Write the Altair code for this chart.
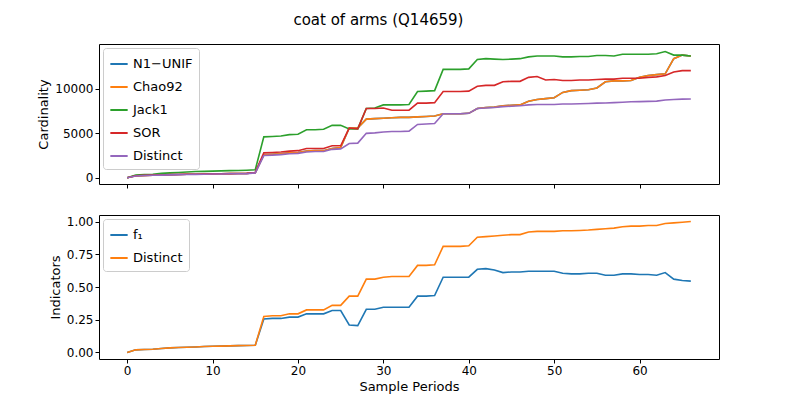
import altair as alt
import pandas as pd

periods = list(range(67))

distinct = [0, 0.2, 0.25, 0.28, 0.3, 0.33, 0.35, 0.37, 0.38, 0.4, 0.42, 0.43, 0.45, 0.46, 0.47, 0.55,
            2.5, 2.55, 2.6, 2.7, 2.75, 2.9, 2.95, 2.95, 3.2, 3.25, 3.85, 3.9, 5.0, 5.05, 5.15, 5.2, 5.2, 5.25,
            6.0, 6.05, 6.1, 7.2, 7.2, 7.2, 7.25, 7.8, 7.85, 7.9, 8.0, 8.05, 8.1, 8.2, 8.25, 8.25, 8.25, 8.3,
            8.3, 8.32, 8.35, 8.4, 8.42, 8.45, 8.5, 8.55, 8.57, 8.6, 8.62, 8.75, 8.8, 8.85, 8.87]
chao92 = [0, 0.22, 0.27, 0.3, 0.32, 0.35, 0.37, 0.39, 0.4, 0.42, 0.44, 0.45, 0.47, 0.48, 0.5, 0.58,
          2.6, 2.65, 2.7, 2.8, 2.85, 3.0, 3.05, 3.05, 3.3, 3.4, 5.6, 5.6, 6.6, 6.65, 6.7, 6.75, 6.8, 6.8,
          6.85, 6.9, 6.95, 7.2, 7.2, 7.2, 7.25, 7.8, 7.9, 7.95, 8.1, 8.15, 8.2, 8.6, 8.8, 8.9, 9.0, 9.6,
          9.8, 9.85, 9.9, 10.1, 10.8, 10.9, 10.9, 10.95, 11.3, 11.5, 11.6, 11.7, 13.4, 13.8, 13.7]
jack1 = [0, 0.3, 0.35, 0.4, 0.5, 0.55, 0.6, 0.65, 0.7, 0.72, 0.75, 0.78, 0.8, 0.82, 0.85, 0.9,
         4.6, 4.65, 4.7, 4.85, 4.9, 5.4, 5.4, 5.45, 5.9, 5.9, 5.5, 5.5, 7.8, 7.85, 8.2, 8.2, 8.2, 8.25,
         9.7, 9.75, 9.8, 12.2, 12.2, 12.2, 12.25, 13.3, 13.4, 13.35, 13.3, 13.35, 13.4, 13.6, 13.7, 13.7,
         13.7, 13.6, 13.6, 13.65, 13.65, 13.75, 13.75, 13.7, 13.9, 13.9, 13.9, 13.9, 13.95, 14.2, 13.8,
         13.8, 13.7]
sor = [0, 0.22, 0.27, 0.3, 0.32, 0.35, 0.37, 0.39, 0.4, 0.42, 0.44, 0.45, 0.47, 0.48, 0.5, 0.6,
       2.8, 2.85, 2.9, 3.0, 3.05, 3.3, 3.3, 3.3, 3.6, 3.6, 5.6, 5.5, 7.8, 7.8, 7.85, 7.6, 7.6, 7.6,
       8.4, 8.4, 8.45, 9.7, 9.7, 9.7, 9.75, 10.3, 10.4, 10.4, 10.8, 10.85, 10.85, 11.3, 11.4, 11.0,
       11.05, 10.95, 10.95, 11.0, 11.0, 11.05, 11.1, 11.1, 11.2, 11.2, 11.2, 11.3, 11.35, 11.5, 11.9,
       12.05, 12.05]

f1 = [0, 0.02, 0.022, 0.025, 0.03, 0.035, 0.038, 0.04, 0.042, 0.045, 0.047, 0.048, 0.05, 0.052, 0.053, 0.055,
      0.255, 0.26, 0.26, 0.27, 0.27, 0.295, 0.295, 0.295, 0.32, 0.32, 0.21, 0.205, 0.33, 0.33, 0.345, 0.345,
      0.345, 0.345, 0.43, 0.43, 0.435, 0.575, 0.575, 0.575, 0.575, 0.635, 0.64, 0.63, 0.61, 0.615, 0.615,
      0.62, 0.62, 0.62, 0.62, 0.605, 0.6, 0.6, 0.605, 0.605, 0.59, 0.59, 0.6, 0.6, 0.595, 0.595, 0.59, 0.61,
      0.56, 0.55, 0.545]
distinct_ratio = [0, 0.02, 0.022, 0.025, 0.03, 0.035, 0.038, 0.04, 0.042, 0.045, 0.047, 0.048, 0.05, 0.052,
                  0.053, 0.055, 0.275, 0.28, 0.28, 0.295, 0.295, 0.325, 0.325, 0.325, 0.36, 0.36, 0.43, 0.43,
                  0.56, 0.56, 0.575, 0.58, 0.58, 0.58, 0.665, 0.665, 0.67, 0.81, 0.81, 0.81, 0.815, 0.88,
                  0.885, 0.89, 0.895, 0.9, 0.9, 0.92, 0.925, 0.925, 0.925, 0.93, 0.93, 0.932, 0.935, 0.94,
                  0.945, 0.95, 0.96, 0.965, 0.965, 0.97, 0.97, 0.985, 0.99, 0.995, 1.0]

top_names = ["N1\u2212UNIF", "Chao92", "Jack1", "SOR", "Distinct"]
top_series = [chao92, chao92, jack1, sor, distinct]
top_colors = ["#1f77b4", "#ff7f0e", "#2ca02c", "#d62728", "#9467bd"]

top_rows = []
for name, vals in zip(top_names, top_series):
    for p, v in zip(periods, vals):
        top_rows.append({"period": p, "value": v * 1000, "series": name})
top_df = pd.DataFrame(top_rows)

bot_names = ["f\u2081", "Distinct"]
bot_rows = []
for name, vals in zip(bot_names, [f1, distinct_ratio]):
    for p, v in zip(periods, vals):
        bot_rows.append({"period": p, "value": v, "series": name})
bot_df = pd.DataFrame(bot_rows)

legend = alt.Legend(title=None, orient="top-left", offset=4, labelFontSize=13, symbolType="stroke",
                    symbolStrokeWidth=2, symbolSize=300, fillColor="white", strokeColor="#cccccc",
                    padding=6, cornerRadius=3, rowPadding=6, labelColor="black")

top = alt.Chart(top_df).mark_line(strokeWidth=1.6, clip=True).encode(
    x=alt.X("period:Q", scale=alt.Scale(domain=[-3.3, 69.3], nice=False),
            axis=alt.Axis(title=None, labels=False, values=[0, 10, 20, 30, 40, 50, 60])),
    y=alt.Y("value:Q", scale=alt.Scale(domain=[-700, 15050], nice=False),
            axis=alt.Axis(title="Cardinality", values=[0, 5000, 10000], format="d")),
    color=alt.Color("series:N", sort=top_names,
                    scale=alt.Scale(domain=top_names, range=top_colors), legend=legend),
    order=alt.Order("series:N"),
).properties(width=620, height=140)

bottom = alt.Chart(bot_df).mark_line(strokeWidth=1.6, clip=True).encode(
    x=alt.X("period:Q", scale=alt.Scale(domain=[-3.3, 69.3], nice=False),
            axis=alt.Axis(title="Sample Periods", values=[0, 10, 20, 30, 40, 50, 60])),
    y=alt.Y("value:Q", scale=alt.Scale(domain=[-0.05, 1.05], nice=False),
            axis=alt.Axis(title="Indicators", values=[0, 0.25, 0.5, 0.75, 1.0], format=".2f")),
    color=alt.Color("series:N", sort=bot_names,
                    scale=alt.Scale(domain=bot_names, range=["#1f77b4", "#ff7f0e"]), legend=legend),
).properties(width=620, height=144)

chart = alt.vconcat(top, bottom, spacing=25).resolve_scale(color="independent").properties(
    title=alt.Title("coat of arms (Q14659)", fontSize=15, fontWeight="normal", anchor="middle", offset=16),
    padding={"left": 29, "top": 4, "right": 5, "bottom": 5},
).configure(font="DejaVu Sans").configure_view(stroke="black", strokeWidth=1).configure_axis(
    grid=False, domain=False, tickColor="black", labelColor="black", titleColor="black",
    labelFontSize=12, titleFontSize=13, titleFontWeight="normal", tickSize=4
)

chart.save("out.html", embed_options={"renderer": "svg", "actions": False})
